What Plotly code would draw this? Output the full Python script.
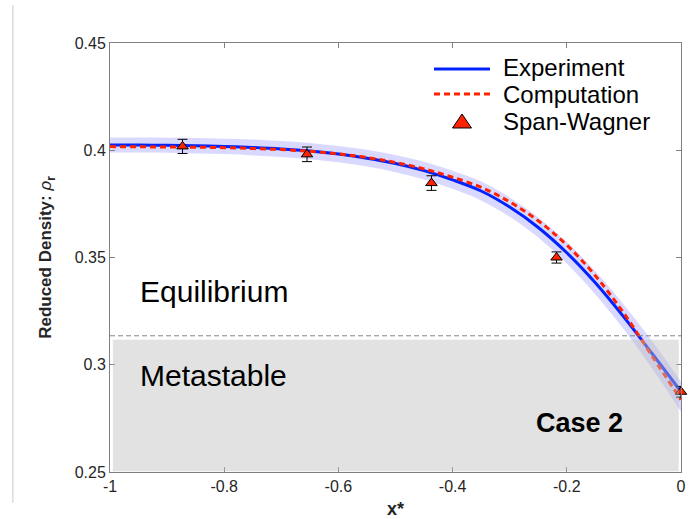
import plotly.graph_objects as go

# ---------------- data ----------------
x_grid = [-1.0, -0.95, -0.9, -0.85, -0.8, -0.75, -0.7, -0.65, -0.6, -0.55, -0.5,
          -0.45, -0.4, -0.35, -0.3, -0.25, -0.2, -0.15, -0.1, -0.05, 0.0]
experiment = [0.4025, 0.4024, 0.4023, 0.4021, 0.4018, 0.4013, 0.4006, 0.3996, 0.3982, 0.3963, 0.3938,
              0.3905, 0.3862, 0.3810, 0.3735, 0.3640, 0.3522, 0.3382, 0.3222, 0.3050, 0.2874]
computation = [0.4017, 0.4016, 0.4015, 0.4014, 0.4012, 0.4008, 0.4003, 0.3995, 0.3983, 0.3966, 0.3943,
               0.3913, 0.3874, 0.3827, 0.3759, 0.3671, 0.3558, 0.3415, 0.3240, 0.3038, 0.2837]
band_upper = [0.4060, 0.4059, 0.4058, 0.4057, 0.4054, 0.4050, 0.4043, 0.4034, 0.4020, 0.4002, 0.3978,
              0.3946, 0.3904, 0.3854, 0.3780, 0.3687, 0.3572, 0.3436, 0.3280, 0.3108, 0.2921]
band_lower = [0.3990, 0.3989, 0.3988, 0.3985, 0.3982, 0.3976, 0.3969, 0.3958, 0.3944, 0.3924, 0.3898,
              0.3864, 0.3820, 0.3766, 0.3690, 0.3593, 0.3472, 0.3328, 0.3164, 0.2980, 0.2781]

sw_x = [-0.873, -0.655, -0.437, -0.218, 0.0]
sw_y = [0.4018, 0.3981, 0.3847, 0.3500, 0.2874]
sw_err = [0.0033, 0.0034, 0.0034, 0.0026, 0.0025]

metastable_limit = 0.3135
metastable_top = 0.3117
metastable_x = [-0.995, -0.004]

x_ticks = [-1, -0.8, -0.6, -0.4, -0.2, 0]
x_ticklabels = ["-1", "-0.8", "-0.6", "-0.4", "-0.2", "0"]
y_ticks = [0.25, 0.3, 0.35, 0.4, 0.45]
y_ticklabels = ["0.25", "0.3", "0.35", "0.4", "0.45"]

FONT = "Liberation Sans, Arial, Helvetica, sans-serif"

fig = go.Figure()

# uncertainty band
fig.add_trace(go.Scatter(x=x_grid, y=band_lower, mode="lines", line=dict(width=0, shape="spline"),
                         hoverinfo="skip", showlegend=False))
fig.add_trace(go.Scatter(x=x_grid, y=band_upper, mode="lines", line=dict(width=0, shape="spline"),
                         fill="tonexty", fillcolor="rgba(0,0,255,0.15)", hoverinfo="skip", showlegend=False))
# experiment
fig.add_trace(go.Scatter(x=x_grid, y=experiment, mode="lines", name="Experiment",
                         line=dict(color="#0022ff", width=3, shape="spline"), showlegend=False))
# computation
fig.add_trace(go.Scatter(x=x_grid, y=computation, mode="lines", name="Computation",
                         line=dict(color="#ff2200", width=3, dash="6px,4px", shape="spline"), showlegend=False))
# Span-Wagner
fig.add_trace(go.Scatter(x=sw_x, y=sw_y, mode="markers", name="Span-Wagner",
                         marker=dict(symbol="triangle-up", size=10, color="#ff2200",
                                     line=dict(color="black", width=1)),
                         error_y=dict(type="data", array=sw_err, color="black", thickness=1, width=5),
                         cliponaxis=False, showlegend=False))

shapes = [
    # metastable region
    dict(type="rect", xref="x", yref="y", x0=metastable_x[0], x1=metastable_x[1],
         y0=0.2503, y1=metastable_top, fillcolor="rgb(190,190,190)", opacity=0.45,
         line=dict(width=0), layer="above"),
    # dashed limit line
    dict(type="line", xref="x", yref="y", x0=-1, x1=0, y0=metastable_limit, y1=metastable_limit,
         line=dict(color="rgb(130,130,130)", width=1, dash="5px,3px"), layer="above"),
    # thin page border line at left
    dict(type="line", xref="paper", yref="paper", x0=-0.17, x1=-0.17, y0=-0.072, y1=1.088,
         line=dict(color="rgb(200,200,200)", width=1)),
    # legend samples
    dict(type="line", xref="paper", yref="paper", x0=0.5674, x1=0.6655, y0=0.9394, y1=0.9394,
         line=dict(color="#0022ff", width=3)),
    dict(type="line", xref="paper", yref="paper", x0=0.5674, x1=0.6655, y0=0.8811, y1=0.8811,
         line=dict(color="#ff2200", width=3, dash="6px,4px")),
    dict(type="path", xref="paper", yref="paper",
         path="M 0.6165 0.8345 L 0.5998 0.8019 L 0.6331 0.8019 Z",
         fillcolor="#ff2200", line=dict(color="black", width=1)),
]

annotations = [
    dict(text="Experiment", x=0.6850, y=0.9429),
    dict(text="Computation", x=0.6850, y=0.8788),
    dict(text="Span-Wagner", x=0.6850, y=0.8159),
]
annotations = [dict(a, xref="paper", yref="paper", xanchor="left", yanchor="middle", showarrow=False,
                    font=dict(family=FONT, size=24, color="black")) for a in annotations]
annotations += [
    dict(text="Equilibrium", x=0.049, y=0.4219, xref="paper", yref="paper", xanchor="left",
         yanchor="middle", showarrow=False, font=dict(family=FONT, size=30, color="black")),
    dict(text="Metastable", x=0.049, y=0.2249, xref="paper", yref="paper", xanchor="left",
         yanchor="middle", showarrow=False, font=dict(family=FONT, size=30, color="black")),
    dict(text="<b>Case 2</b>", x=0.8231, y=0.1142, xref="paper", yref="paper", xanchor="center",
         yanchor="middle", showarrow=False, font=dict(family=FONT, size=27, color="black")),
]

fig.update_layout(
    width=699, height=519,
    margin=dict(l=110, r=18, t=43, b=47),
    paper_bgcolor="white", plot_bgcolor="white",
    font=dict(family=FONT, size=16, color="#262626"),
    shapes=shapes, annotations=annotations, showlegend=False,
)
fig.update_xaxes(range=[-1, 0], tickvals=x_ticks, ticktext=x_ticklabels, automargin=False,
                 showline=True, linecolor="rgb(128,128,128)", linewidth=1, mirror="ticks",
                 ticks="inside", ticklen=5, tickcolor="rgb(128,128,128)", showgrid=False, zeroline=False,
                 tickfont=dict(size=16, color="#262626"),
                 title=dict(text="<b>x*</b>", font=dict(size=18, color="#262626"), standoff=9))
fig.update_yaxes(range=[0.25, 0.45], tickvals=y_ticks, ticktext=y_ticklabels, automargin=False,
                 showline=True, linecolor="rgb(128,128,128)", linewidth=1, mirror="ticks",
                 ticks="inside", ticklen=5, tickcolor="rgb(128,128,128)", showgrid=False, zeroline=False,
                 tickfont=dict(size=16, color="#262626"),
                 title=dict(text="<b>Reduced Density: </b><i>ρ</i><sub><b>r</b></sub>",
                            font=dict(size=17, color="#262626"), standoff=18))

fig.write_html("out.html")
